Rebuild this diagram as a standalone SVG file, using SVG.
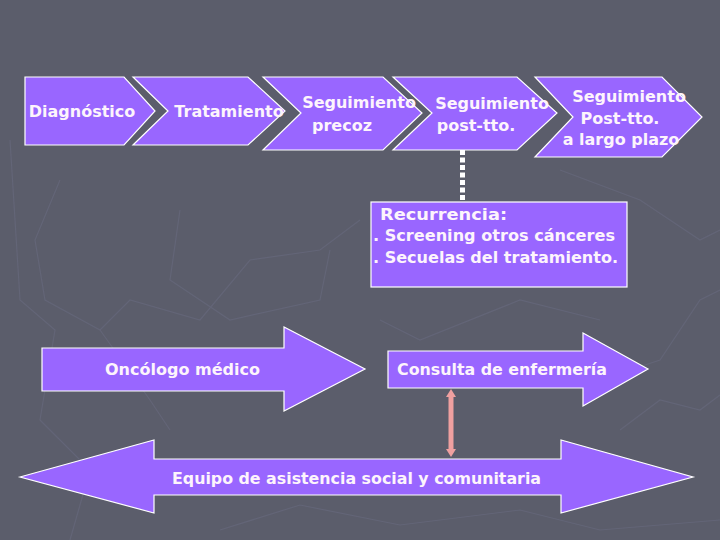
<svg xmlns="http://www.w3.org/2000/svg" width="720" height="540" viewBox="0 0 720 540">
  <style>
    .shape { fill: #9966ff; stroke: #ffffff; stroke-width: 1.2; stroke-linejoin: miter; }
    .t { font-family: "DejaVu Sans", Verdana, sans-serif; fill: #fdf4fc; font-size: 16px; }
    .b { font-weight: bold; }
    .bg-line { fill: none; stroke: #636577; stroke-width: 1.2; }
  </style>
  <rect x="0" y="0" width="720" height="540" fill="#5b5d6b"/>
  <g id="background-pattern">
    <path class="bg-line" d="M10 140 L20 300 L55 330 L40 420 L90 470 L70 540"/>
    <path class="bg-line" d="M60 180 L35 240 L45 300 L100 330 L130 300 L200 320 L250 260 L320 250 L360 220"/>
    <path class="bg-line" d="M180 210 L170 280 L230 320 L320 300 L330 250"/>
    <path class="bg-line" d="M100 330 L150 400 L170 430"/>
    <path class="bg-line" d="M600 380 L660 360 L700 300 L720 290"/>
    <path class="bg-line" d="M560 170 L640 200 L700 240 L720 230"/>
    <path class="bg-line" d="M380 320 L420 340 L520 300 L600 320"/>
    <path class="bg-line" d="M220 530 L300 505 L400 525 L520 510 L600 530 L720 520"/>
    <path class="bg-line" d="M620 430 L660 400 L700 410 L720 395"/>
  </g>

  <g id="node-diagnostico">
    <polygon class="shape" points="25,77 124,77 155,111 124,145 25,145"/>
    <text class="t b" x="82" y="117" text-anchor="middle">Diagnóstico</text>
  </g>
  <g id="node-tratamiento">
    <polygon class="shape" points="133,77 248,77 285,111 248,145 133,145 168,111"/>
    <text class="t b" x="229" y="117" text-anchor="middle">Tratamiento</text>
  </g>
  <g id="node-seguimiento-precoz">
    <polygon class="shape" points="263,77 383,77 422,113 383,150 263,150 301,113"/>
    <text class="t b" x="359" y="108" text-anchor="middle">Seguimiento</text>
    <text class="t b" x="342" y="131" text-anchor="middle">precoz</text>
  </g>
  <g id="node-seguimiento-post">
    <polygon class="shape" points="393,77 517,77 557,113 517,150 393,150 432,113"/>
    <text class="t b" x="492" y="109" text-anchor="middle">Seguimiento</text>
    <text class="t b" x="476" y="131" text-anchor="middle">post-tto.</text>
  </g>
  <g id="node-seguimiento-largo">
    <polygon class="shape" points="535,77 662,77 702,117 662,157 535,157 573,117"/>
    <text class="t b" x="629" y="102" text-anchor="middle">Seguimiento</text>
    <text class="t b" x="620" y="124" text-anchor="middle">Post-tto.</text>
    <text class="t b" x="621" y="145" text-anchor="middle">a largo plazo</text>
  </g>

  <g id="node-recurrencia">
    <rect class="shape" x="371" y="202" width="256" height="85"/>
    <text class="t b" x="380" y="220" font-size="18" textLength="127" lengthAdjust="spacingAndGlyphs">Recurrencia:</text>
    <text class="t b" x="373" y="241" font-size="15" textLength="242" lengthAdjust="spacingAndGlyphs">. Screening otros cánceres</text>
    <text class="t b" x="373" y="263" font-size="15" textLength="245" lengthAdjust="spacingAndGlyphs">. Secuelas del tratamiento.</text>
  </g>

  <g id="node-oncologo">
    <polygon class="shape" points="42,348 284,348 284,327 365,369 284,411 284,391 42,391"/>
    <text class="t b" x="105" y="375" textLength="155" lengthAdjust="spacingAndGlyphs">Oncólogo médico</text>
  </g>
  <g id="node-enfermeria">
    <polygon class="shape" points="388,351 583,351 583,333 648,369 583,406 583,388 388,388"/>
    <text class="t b" x="397" y="375" textLength="210" lengthAdjust="spacingAndGlyphs">Consulta de enfermería</text>
  </g>
  <g id="node-equipo">
    <polygon class="shape" points="20,477 154,440 154,459 561,459 561,440 693,477 561,513 561,495 154,495 154,513"/>
    <text class="t b" x="172" y="484" textLength="369" lengthAdjust="spacingAndGlyphs">Equipo de asistencia social y comunitaria</text>
  </g>

  <g id="connectors">
    <line x1="462.5" y1="150" x2="462.5" y2="202" stroke="#ffffff" stroke-width="5" stroke-dasharray="5,2.5"/>
    <g id="pink-double-arrow" fill="#f0a0a0">
      <rect x="448.5" y="396" width="5" height="54"/>
      <polygon points="446,397 451,389 456,397"/>
      <polygon points="446,449 451,457 456,449"/>
    </g>
  </g>
</svg>
